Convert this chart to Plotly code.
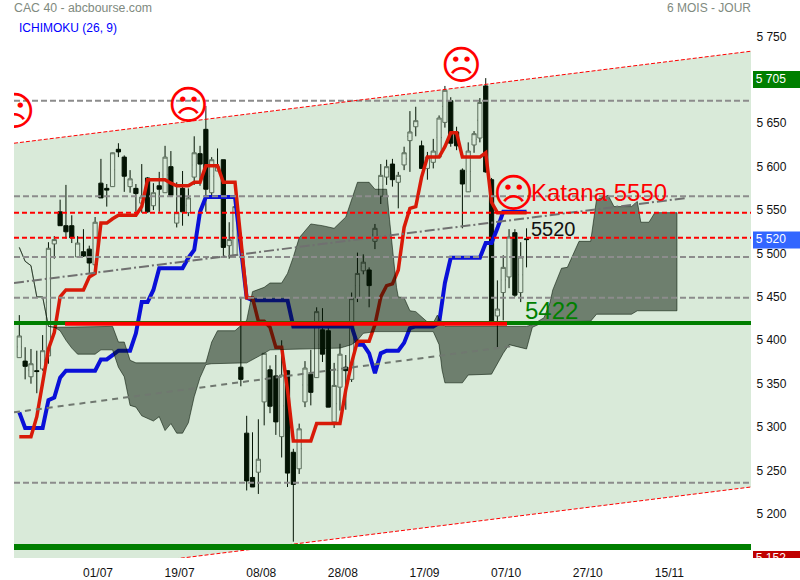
import plotly.graph_objects as go

candle_high = [5429,5392,5390,5388,5406,5513,5520,5562,5579,5544,5520,5528,5509,5542,5609,5580,5616,5627,5613,5596,5580,5603,5588,5581,5594,5624,5618,5582,5595,5575,5635,5624,5670,5611,5621,5608,5536,5555,5450,5313,5294,5309,5385,5371,5383,5400,5365,5275,5304,5376,5389,5438,5437,5415,5374,5396,5383,5455,5501,5499,5484,5534,5603,5608,5609,5594,5623,5664,5669,5630,5617,5632,5659,5693,5680,5646,5598,5628,5641,5679,5702,5587,5469,5498,5528,5528,5513,5529]
candle_low = [5380,5355,5350,5339,5365,5373,5494,5532,5517,5512,5496,5496,5476,5477,5564,5554,5577,5611,5571,5570,5548,5547,5547,5550,5548,5570,5565,5530,5532,5543,5579,5578,5548,5566,5595,5495,5494,5497,5347,5227,5231,5223,5302,5316,5291,5265,5231,5168,5246,5323,5325,5357,5375,5323,5299,5319,5320,5352,5444,5476,5438,5505,5557,5579,5577,5552,5596,5594,5635,5598,5585,5598,5610,5645,5623,5619,5529,5571,5616,5628,5593,5421,5391,5423,5460,5450,5444,5484]
candle_open = [5380,5376,5358,5365,5367,5382,5511,5548,5532,5532,5496,5502,5505,5487,5581,5575,5577,5620,5611,5577,5575,5558,5587,5555,5578,5570,5600,5535,5575,5547,5588,5615,5643,5570,5595,5608,5509,5498,5369,5293,5242,5248,5329,5366,5359,5289,5365,5271,5252,5329,5361,5357,5412,5411,5306,5346,5369,5355,5449,5480,5481,5514,5566,5588,5603,5582,5602,5630,5646,5624,5598,5605,5611,5651,5676,5640,5596,5571,5625,5633,5693,5585,5428,5455,5473,5524,5455,5517]
candle_close = [5405,5370,5373,5364,5388,5506,5516,5532,5525,5518,5512,5497,5489,5536,5564,5573,5616,5617,5589,5586,5569,5565,5548,5570,5574,5611,5567,5547,5548,5564,5616,5603,5574,5608,5600,5507,5516,5554,5355,5238,5231,5263,5385,5324,5306,5360,5247,5234,5298,5368,5340,5433,5384,5323,5348,5384,5365,5448,5477,5490,5463,5529,5590,5600,5585,5590,5616,5640,5653,5598,5611,5618,5656,5688,5627,5624,5580,5618,5638,5674,5594,5421,5436,5484,5519,5452,5496,5516]

tenkan = [5289,5289,5289,5312,5351,5390,5409,5450,5458,5458,5458,5458,5473,5477,5535,5535,5540,5544,5544,5544,5544,5554,5585,5585,5585,5585,5581,5578,5578,5578,5582,5582,5601,5601,5601,5582,5582,5582,5516,5449,5449,5422,5422,5415,5392,5392,5343,5284,5284,5284,5284,5304,5304,5304,5304,5304,5343,5374,5399,5399,5399,5418,5450,5463,5465,5481,5530,5552,5554,5588,5611,5611,5611,5623,5639,5639,5611,5611,5611,5611,5616,5559,5547,5547,5547,5547,5547,5547]
kijun = [5317,5299,5299,5299,5299,5331,5334,5357,5365,5365,5365,5365,5365,5365,5378,5378,5383,5388,5388,5388,5408,5444,5444,5458,5483,5483,5483,5483,5483,5495,5504,5548,5565,5565,5565,5565,5565,5565,5507,5449,5446,5446,5446,5446,5446,5446,5446,5416,5416,5416,5416,5416,5416,5416,5416,5416,5416,5416,5395,5395,5385,5362,5385,5388,5388,5388,5397,5414,5416,5416,5416,5416,5420,5466,5495,5495,5495,5495,5495,5495,5512,5512,5529,5548,5548,5548,5548,5548]

cloud_top_bar = [0,1,2,3,4,5,6,16,17,18,19,20,32,33,34,37,39,40,42,43,45,46,47,48,50,52,54,56,58,60,61,63,63.5,64.7,65,66,67,68,70,71,71.7,72.3,73,87,88,90,91,91.5,93,94,96,98,99,101,102,105,106,106.6,108,109,112.8]
cloud_top_val = [5507,5491,5486,5450,5450,5416,5415,5416,5398,5398,5377,5374,5374,5398,5411,5411,5423,5456,5461,5466,5466,5477,5496,5518,5534,5532,5529,5542,5582,5582,5574,5574,5539,5461,5450,5449,5434,5433,5421,5420,5429,5421,5416,5416,5418,5426,5443,5458,5483,5484,5514,5514,5562,5567,5554,5554,5560,5536,5536,5547,5547]
cloud_bot_bar = [0,1,2,3,4,5,6,7,8,9,10,13,14,16,17,18,19,20,21,23,24,25,26,27,28,29,30,31,32,33,39,40,42,43,55,57,58,59,61,71,72,72.5,73,76,77,81,83,84,87,88,90,98,99,105,106,112.8]
cloud_bot_val = [5507,5491,5486,5450,5450,5416,5415,5411,5400,5391,5384,5384,5389,5389,5369,5358,5325,5323,5313,5307,5312,5296,5304,5293,5293,5305,5335,5357,5372,5373,5374,5378,5385,5389,5391,5395,5400,5408,5410,5410,5395,5366,5351,5351,5360,5361,5385,5395,5390,5415,5421,5422,5430,5430,5434,5434]

axis_x = [-0.91, 125.5]
axis_y = [5149.2, 5792]
channel_top = [5627, 5733]
channel_bot = [5125, 5231]
gray_levels = [5676, 5566, 5496, 5449, 5236]
red_levels = [5547, 5518]
mid_up_x = [-0.91, 114.5]
mid_up_y = [5466, 5564]
mid_lo_x = [-0.91, 84.2]
mid_lo_y = [5317, 5393]
green_levels = [5420, 5162]
green_widths = [4, 6]
katana_x = [7.85, 83.65]
katana_y = [5419, 5419]

face_x = [-0.8, 29.0, 75.8, 84.8]
face_y = [5660, 5667, 5713, 5565]

y_ticks = [5750, 5650, 5600, 5550, 5500, 5450, 5400, 5350, 5300, 5250, 5200]
y_labels = ["5 750", "5 650", "5 600", "5 550", "5 500", "5 450", "5 400", "5 350", "5 300", "5 250", "5 200"]
x_ticks = [13.5, 27.5, 41.5, 55.5, 69.5, 83.5, 97.5, 111.5]
x_labels = ["01/07", "19/07", "08/08", "28/08", "17/09", "07/10", "27/10", "15/11"]

tag_text = ["5 705", "5 520", "5 152"]
tag_y = [5700.4, 5515.5, 5147.5]
tag_color = ["#007f00", "#3366ff", "#c00000"]
tag_height = 19.5

FONT = "Liberation Sans"
W, H = 800, 580
L, R, T, B = 14, 0, 0, 22
PLOT_RIGHT = 751
STRIP_LEFT = 753
bars = list(range(len(candle_high)))
assert all(len(a) == len(bars) for a in (candle_low, candle_open, candle_close, tenkan, kijun))
assert len(cloud_top_bar) == len(cloud_top_val) and len(cloud_bot_bar) == len(cloud_bot_val)

fig = go.Figure()

black = [i for i in bars if candle_close[i] < candle_open[i]]
hollow = [i for i in bars if candle_close[i] >= candle_open[i]]
DARK = "#041404"

# black candles
fig.add_trace(go.Candlestick(
    x=black, open=[candle_open[i] for i in black], high=[candle_high[i] for i in black],
    low=[candle_low[i] for i in black], close=[candle_close[i] for i in black],
    whiskerwidth=0, showlegend=False, hoverinfo="skip",
    decreasing=dict(line=dict(color=DARK, width=1), fillcolor=DARK),
    increasing=dict(line=dict(color=DARK, width=1), fillcolor=DARK)))
# wicks of hollow candles
mid = [(candle_open[i] + candle_close[i]) / 2 for i in hollow]
fig.add_trace(go.Candlestick(
    x=hollow, open=mid, close=mid, high=[candle_high[i] for i in hollow],
    low=[candle_low[i] for i in hollow],
    whiskerwidth=0, showlegend=False, hoverinfo="skip",
    decreasing=dict(line=dict(color=DARK, width=1), fillcolor=DARK),
    increasing=dict(line=dict(color=DARK, width=1), fillcolor=DARK)))
# hollow bodies
fig.add_trace(go.Candlestick(
    x=hollow, open=[candle_open[i] for i in hollow], close=[candle_close[i] for i in hollow],
    high=[candle_close[i] for i in hollow], low=[candle_open[i] for i in hollow],
    whiskerwidth=0, showlegend=False, hoverinfo="skip",
    increasing=dict(line=dict(color="#5c6e5c", width=1), fillcolor="#d9ead9"),
    decreasing=dict(line=dict(color="#5c6e5c", width=1), fillcolor="#d9ead9")))

fig.add_trace(go.Scatter(x=bars, y=kijun, mode="lines", line=dict(color="#0a10d8", width=4), hoverinfo="skip"))
fig.add_trace(go.Scatter(x=bars, y=tenkan, mode="lines", line=dict(color="#d81a08", width=3.5), hoverinfo="skip"))

# cloud, over the lines
fig.add_trace(go.Scatter(
    x=cloud_top_bar + cloud_bot_bar[::-1], y=cloud_top_val + cloud_bot_val[::-1],
    mode="lines", fill="toself", fillcolor="rgba(3,20,3,0.5)",
    line=dict(color="rgba(3,20,3,0.55)", width=1), hoverinfo="skip"))

for lvl in gray_levels:
    fig.add_trace(go.Scatter(x=axis_x, y=[lvl, lvl], mode="lines", hoverinfo="skip",
                             line=dict(color="#8c8c8c", width=2, dash="6px,3px")))
fig.add_trace(go.Scatter(x=mid_up_x, y=mid_up_y, mode="lines", hoverinfo="skip",
                         line=dict(color="#707070", width=2, dash="10px,3px,2px,3px")))
fig.add_trace(go.Scatter(x=mid_lo_x, y=mid_lo_y, mode="lines", hoverinfo="skip",
                         line=dict(color="#707870", width=2, dash="6px,5px")))
for lvl in red_levels:
    fig.add_trace(go.Scatter(x=axis_x, y=[lvl, lvl], mode="lines", hoverinfo="skip",
                             line=dict(color="#ff0000", width=2, dash="5px,3px")))
fig.add_trace(go.Scatter(x=axis_x, y=channel_top, mode="lines", hoverinfo="skip",
                         line=dict(color="#ff0000", width=1, dash="4px,2px")))
fig.add_trace(go.Scatter(x=axis_x, y=channel_bot, mode="lines", hoverinfo="skip",
                         line=dict(color="#ff0000", width=1, dash="4px,2px")))
for lvl, wd in zip(green_levels, green_widths):
    fig.add_trace(go.Scatter(x=axis_x, y=[lvl, lvl], mode="lines", hoverinfo="skip",
                             line=dict(color="#007f00", width=wd)))
fig.add_trace(go.Scatter(x=katana_x, y=katana_y, mode="lines", hoverinfo="skip",
                         line=dict(color="#ff0000", width=4)))

fig.add_trace(go.Scatter(x=face_x, y=face_y, mode="text", text=["\u2639"] * len(face_x),
                         textposition="middle center", hoverinfo="skip",
                         textfont=dict(family="DejaVu Sans", size=40, color="#ff0000")))

# price tags in a side strip, cut at the bottom of the plot
fig.add_trace(go.Bar(x=[0.5] * 3, y=[tag_height] * 3, base=[v - tag_height / 2 for v in tag_y],
                     width=1, marker=dict(color=tag_color, line=dict(width=0)),
                     xaxis="x2", yaxis="y", hoverinfo="skip"))
fig.add_trace(go.Scatter(x=[0.06] * 3, y=tag_y, mode="text", text=tag_text, textposition="middle right",
                         xaxis="x2", yaxis="y", hoverinfo="skip",
                         textfont=dict(family=FONT, size=12, color="#ffffff")))


def ann(text, px, py, size, color, anchor="left"):
    return dict(text=text, xref="paper", yref="paper", showarrow=False,
                x=(px - L) / (W - L - R), y=(H - B - py) / (H - T - B),
                xanchor=anchor, yanchor="middle", borderpad=0, borderwidth=0,
                font=dict(family=FONT, size=size, color=color))


annotations = [
    ann("CAC 40 - abcbourse.com", 14, 8, 12.3, "#808a80"),
    ann("6 MOIS - JOUR", 751, 8, 12, "#808a80", "right"),
    ann("ICHIMOKU (26, 9)", 19, 28, 12, "#0000ff"),
    ann("Katana 5550", 531, 192, 24, "#ff0000"),
    ann("5520", 531, 229, 20, "#111111"),
    ann("5422", 525, 310, 24, "#008000"),
]

channel_path = (f"M {axis_x[0]},{channel_top[0]} L {axis_x[1]},{channel_top[1]} "
                f"L {axis_x[1]},{channel_bot[1]} L {axis_x[0]},{channel_bot[0]} Z")

fig.update_layout(
    width=W, height=H, margin=dict(l=L, r=R, t=T, b=B, pad=0),
    paper_bgcolor="#ffffff", plot_bgcolor="#ffffff", showlegend=False, barmode="overlay",
    boxgap=0.15, boxgroupgap=0.15,
    font=dict(family=FONT, size=12, color="#111111"),
    annotations=annotations,
    shapes=[dict(type="path", path=channel_path, xref="x", yref="y", layer="below",
                 fillcolor="#d9ead9", line=dict(width=0))],
    xaxis=dict(domain=[0, (PLOT_RIGHT - L) / (W - L)], range=axis_x, rangeslider=dict(visible=False),
               showgrid=False, zeroline=False, showline=False, tickmode="array",
               tickvals=x_ticks, ticktext=x_labels, ticks="outside", ticklen=4,
               tickcolor="rgba(0,0,0,0)", tickfont=dict(family=FONT, size=12, color="#111111")),
    xaxis2=dict(domain=[(STRIP_LEFT - L) / (W - L), 1], range=[0, 1], anchor="y",
                visible=False, fixedrange=True),
    yaxis=dict(range=axis_y, side="right", showgrid=False, zeroline=False, showline=False,
               tickmode="array", tickvals=y_ticks, ticktext=y_labels, ticks="outside", ticklen=2,
               tickcolor="rgba(0,0,0,0)", tickfont=dict(family=FONT, size=12, color="#111111")),
)

fig.write_html("out.html", config=dict(displayModeBar=False),
               post_script="document.body.style.margin='0';")
